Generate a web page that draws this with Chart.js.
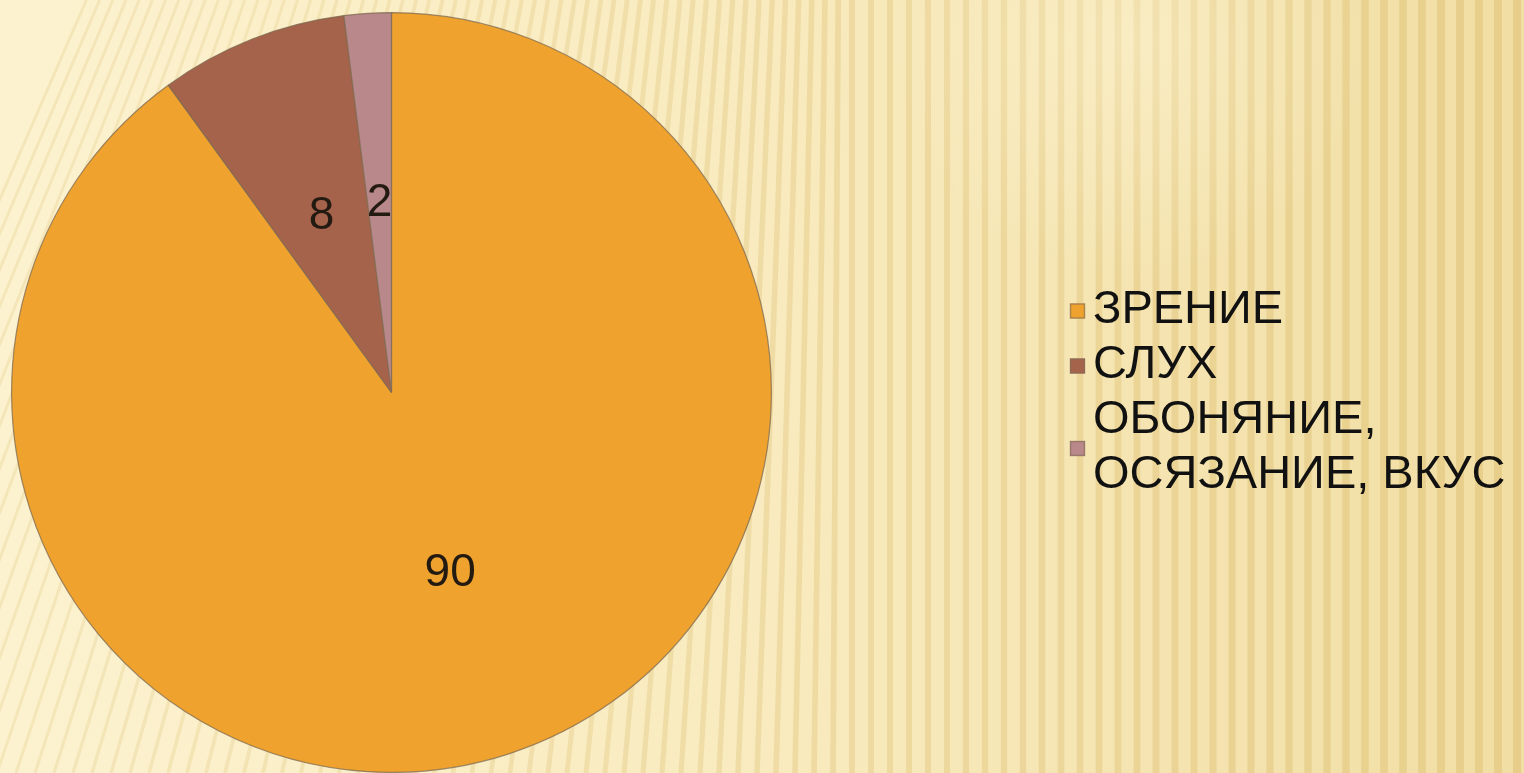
<!DOCTYPE html>
<html lang="ru">
<head>
<meta charset="utf-8">
<title>Органы чувств</title>
<script src="https://cdn.jsdelivr.net/npm/chart.js@4/dist/chart.umd.min.js"></script>
<style>
    html, body { margin: 0; padding: 0; overflow: hidden; background: #f6e6b4; }
    #wrap { position: relative; width: 1524px; height: 773px; }
</style>
</head>
<body>
<div id="wrap"><canvas id="pieChart"></canvas></div>
<script>
// Данные диаграммы
const categories = ['ЗРЕНИЕ', 'СЛУХ', 'ОБОНЯНИЕ, ОСЯЗАНИЕ, ВКУС'];
const legendLines = [['ЗРЕНИЕ'], ['СЛУХ'], ['ОБОНЯНИЕ,', 'ОСЯЗАНИЕ, ВКУС']];
const values = [90, 8, 2];
const sliceColors = ['#efa22e', '#a5634b', '#b9888a'];

const fontFamily = '"Liberation Sans", Arial, sans-serif';

// Фон слайда: жёлтый градиент с полосками
const backgroundPlugin = {
    id: 'slideBackground',
    beforeDraw(chart) {
        const ctx = chart.ctx;
        const w = chart.width, h = chart.height;
        ctx.save();
        const grad = ctx.createLinearGradient(0, 0, w, 0);
        grad.addColorStop(0, '#fcf2cf');
        grad.addColorStop(0.5, '#f9ebbf');
        grad.addColorStop(1, '#f1dea4');
        ctx.fillStyle = grad;
        ctx.fillRect(0, 0, w, h);

        // полоски
        for (let x = -250; x < w + 40; x += 19) {
            const k = Math.max(0, Math.min(1, x / w));
            const tilt = 260 * Math.max(0, 1 - x / 850);
            ctx.lineWidth = 3 + 5 * k;
            ctx.strokeStyle = 'rgba(215, 180, 95, ' + (0.18 + 0.2 * k) + ')';
            ctx.beginPath();
            ctx.moveTo(x + tilt, 0);
            ctx.lineTo(x, h);
            ctx.stroke();
        }
        // светлое пятно сверху справа
        const glow = ctx.createRadialGradient(1130, 40, 10, 1130, 40, 240);
        glow.addColorStop(0, 'rgba(255, 248, 220, 0.4)');
        glow.addColorStop(1, 'rgba(255, 248, 220, 0)');
        ctx.fillStyle = glow;
        ctx.fillRect(0, 0, w, h);
        ctx.restore();
    }
};

// Подписи значений внутри секторов
const valueLabelsPlugin = {
    id: 'valueLabels',
    afterDatasetsDraw(chart) {
        const ctx = chart.ctx;
        const meta = chart.getDatasetMeta(0);
        ctx.save();
        ctx.font = '46px ' + fontFamily;
        ctx.fillStyle = '#231a12';
        ctx.textAlign = 'center';
        ctx.textBaseline = 'middle';
        meta.data.forEach((arc, i) => {
            const pos = arc.tooltipPosition();
            ctx.fillText(String(chart.data.datasets[0].data[i]), pos.x, pos.y);
        });
        ctx.restore();
    }
};

// Легенда справа
const sideLegendPlugin = {
    id: 'sideLegend',
    afterDraw(chart) {
        const ctx = chart.ctx;
        const x0 = 1070;
        const lineH = 55;
        let y = 283;
        ctx.save();
        ctx.font = '47px ' + fontFamily;
        ctx.textBaseline = 'middle';
        legendLines.forEach((lines, i) => {
            const itemH = lines.length * lineH;
            const boxY = y + itemH / 2 - 7;
            ctx.fillStyle = sliceColors[i];
            ctx.fillRect(x0, boxY, 15, 15);
            ctx.strokeStyle = 'rgba(130, 110, 90, 0.6)';
            ctx.lineWidth = 1.5;
            ctx.strokeRect(x0 + 0.5, boxY + 0.5, 14, 14);
            ctx.fillStyle = '#111';
            lines.forEach((txt, j) => {
                ctx.fillText(txt, x0 + 23, y + lineH * j + lineH / 2);
            });
            y += itemH;
        });
        ctx.restore();
    }
};

let pieChart;

document.addEventListener('DOMContentLoaded', function() {
    const canvas = document.getElementById('pieChart');
    canvas.width = 1524;
    canvas.height = 773;
    const ctx = canvas.getContext('2d');
    pieChart = new Chart(ctx, {
        type: 'pie',
        data: {
            labels: categories,
            datasets: [{
                data: values,
                backgroundColor: sliceColors,
                borderColor: 'rgba(125, 105, 80, 0.75)',
                borderWidth: 1.2
            }]
        },
        options: {
            responsive: false,
            animation: false,
            layout: {
                padding: { left: 11, top: 12, right: 752, bottom: 0 }
            },
            plugins: {
                legend: { display: false },
                tooltip: { enabled: false }
            }
        },
        plugins: [backgroundPlugin, valueLabelsPlugin, sideLegendPlugin]
    });
});
</script>
</body>
</html>
